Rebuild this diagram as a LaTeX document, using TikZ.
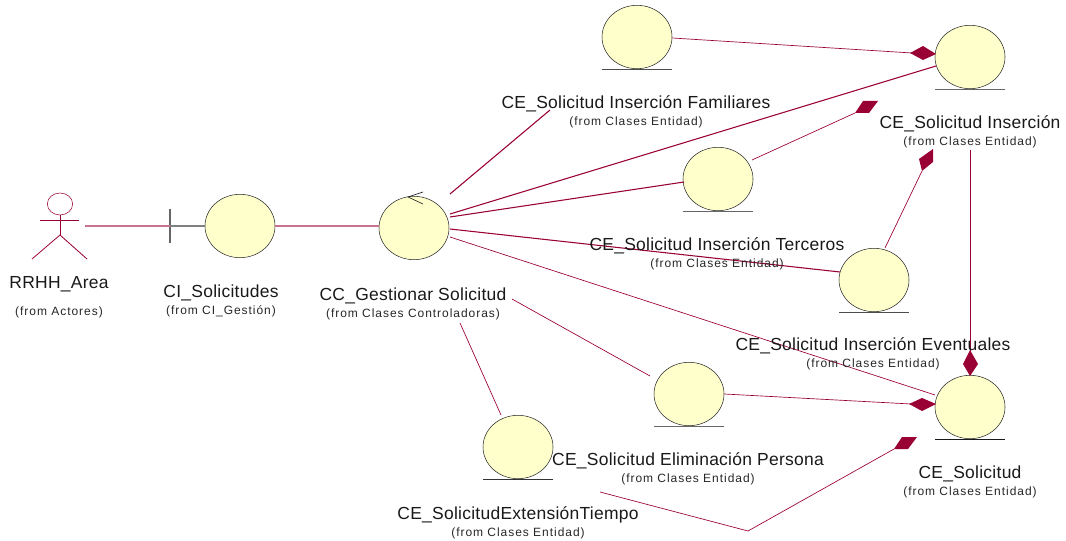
\documentclass[tikz,border=0pt]{standalone}
\usepackage{fontspec}
\setmainfont{Liberation Sans}
\newfontfamily\titelfont[LetterSpace=1.5]{Liberation Sans}
\newfontfamily\fromfont[LetterSpace=8]{Liberation Sans}
\usetikzlibrary{shapes.geometric}
\definecolor{rolle}{RGB}{153,0,51}
\definecolor{kreis}{RGB}{255,255,204}
\definecolor{rand}{RGB}{40,40,40}
\tikzset{
	ball/.style={ellipse, draw=rand, fill=kreis, inner sep=0pt, minimum width=52.5pt, minimum height=47.5pt},
	head/.style={ellipse, draw=rolle, inner sep=0pt, minimum width=19pt, minimum height=16.5pt},
	titel/.style={font=\titelfont\fontsize{13.1}{15}\selectfont, text=black!90, inner sep=0pt},
	from/.style={font=\fromfont\fontsize{9}{11}\selectfont, text=black!85, inner sep=0pt},
	rel/.style={rolle, line width=0.5pt},
	relb/.style={rolle, line width=0.8pt},
	dia/.style={fill=rolle, draw=none},
}
\newcommand{\entity}[3]{% name, position, underline colour
	\node[ball] (#1) at (#2) {};
	\draw[#3, line width=0.6pt] ([xshift=-26.25pt]#1.south) -- ([xshift=26.25pt]#1.south);
}
\newcommand{\namelabel}[4]{% name, position, title, package
	\node[titel] (#1) at (#2) {#3};
	\node[from] (#1from) at ([yshift=-13.5pt]#1) {(from #4)};
}

\begin{document}
\begin{tikzpicture}[x=0.75pt, y=-0.75pt]
	\useasboundingbox (0,0) rectangle (1066,541);

	% actor and boundary
	\node[head] (actorhead) at (60,204) {};
	\coordinate (actorhip) at (60,235);
	\draw[rolle, line width=0.6pt] (actorhead.south) -- (actorhip);
	\draw[rolle, line width=0.6pt] (40,220) -- (79,220);
	\draw[rolle, line width=0.6pt] (32,259) -- (actorhip) -- (87,259);
	\coordinate (actorend) at (85,226);
	\coordinate (bar) at (170,226);
	\draw[black!60, line width=0.8pt] (170,209) -- (170,243);

	% balls
	\node[ball] (ci) at (240,226) {};
	\node[ball] (cc) at (414,228) {};
	\draw[rand, line width=0.5pt] (423,192) -- (408,197) -- (423,204);
	\entity{topball}{637,37}{black!70}
	\entity{insercion}{970,57}{black!60}
	\entity{familiares}{718,179}{black!60}
	\entity{terceros}{874,280}{black!70}
	\entity{eliminacion}{689,394}{black!60}
	\entity{solicitud}{970,407}{black!90}
	\entity{extension}{518,447}{black!80}

	% free ends of the relations
	\coordinate (ccA) at (450,194);
	\coordinate (famEnd) at (550,110);
	\coordinate (ccB) at (450,214);
	\coordinate (insB) at (936,66);
	\coordinate (ccC) at (450,217);
	\coordinate (famW) at (684,182);
	\coordinate (ccD) at (450,229);
	\coordinate (terW) at (840,272);
	\coordinate (ccE) at (450,237);
	\coordinate (solB) at (935,395);
	\coordinate (ccF) at (512,299);
	\coordinate (elimB) at (650,376);
	\coordinate (ccG) at (460,323);
	\coordinate (extT) at (501,415);
	\coordinate (famE) at (752,160);
	\coordinate (diaA) at (855,113);
	\coordinate (terN) at (885,248);
	\coordinate (diaB) at (922,171);
	\coordinate (insS) at (970,150);
	\coordinate (diaC) at (970,352);
	\coordinate (extEnd) at (600,492);
	\coordinate (knick) at (748,531);
	\coordinate (diaD) at (894,449);

	% relations
	\draw[rolle!55, line width=1.2pt] (actorend) -- (bar);
	\draw[black!50, line width=0.8pt] (bar) -- (ci.west);
	\draw[rolle!55, line width=1.2pt] (ci.east) -- (cc.west |- ci.east);
	\draw[relb] (ccA) -- (famEnd);
	\draw[relb] (ccB) -- (insB);
	\draw[relb] (ccC) -- (famW);
	\draw[relb] (ccD) -- (terW);
	\draw[rel] (ccE) -- (solB);
	\draw[rel] (ccF) -- (elimB);
	\draw[rel] (ccG) -- (extT);
	\draw[rel] (famE) -- (diaA);
	\draw[rel] (terN) -- (diaB);
	\draw[rel] (insS) -- (diaC);
	\draw[rel] (extEnd) -- (knick) -- (diaD);
	\draw[rel] (topball.east |- 0,38) -- (912,53);
	\draw[rel] (eliminacion.east |- 0,394) -- (911,404);

	% diamonds
	\fill[dia] (910,53) -- (923,46) -- (936,54) -- (923,60) -- cycle;
	\fill[dia] (909,404) -- (922,398) -- (936,404) -- (922,411) -- cycle;
	\fill[dia] (970,350) -- (978,364) -- (970,376) -- (963,364) -- cycle;
	\fill[dia] (diaA) -- (863,101) -- (878,101) -- (869,113) -- cycle;
	\fill[dia] (diaB) -- (919,159) -- (933,149) -- (933,162) -- cycle;
	\fill[dia] (diaD) -- (902,437) -- (917,437) -- (908,449) -- cycle;

	% labels
	\node[titel] (actorname) at (59,284) {RRHH\_Area};
	\node[from] (actorfrom) at (59,312) {(from Actores)};
	\namelabel{ciname}{221,293}{CI\_Solicitudes}{CI\_Gestión}
	\namelabel{ccname}{413,296}{CC\_Gestionar Solicitud}{Clases Controladoras}
	\namelabel{famname}{636,104}{CE\_Solicitud Inserción Familiares}{Clases Entidad}
	\namelabel{insname}{970,124}{CE\_Solicitud Inserción}{Clases Entidad}
	\namelabel{tername}{717,246}{CE\_Solicitud Inserción Terceros}{Clases Entidad}
	\namelabel{evename}{873,346}{CE\_Solicitud Inserción Eventuales}{Clases Entidad}
	\namelabel{elimname}{688,461}{CE\_Solicitud Eliminación Persona}{Clases Entidad}
	\namelabel{extname}{518,515}{CE\_SolicitudExtensiónTiempo}{Clases Entidad}
	\namelabel{solname}{970,474}{CE\_Solicitud}{Clases Entidad}
\end{tikzpicture}
\end{document}
